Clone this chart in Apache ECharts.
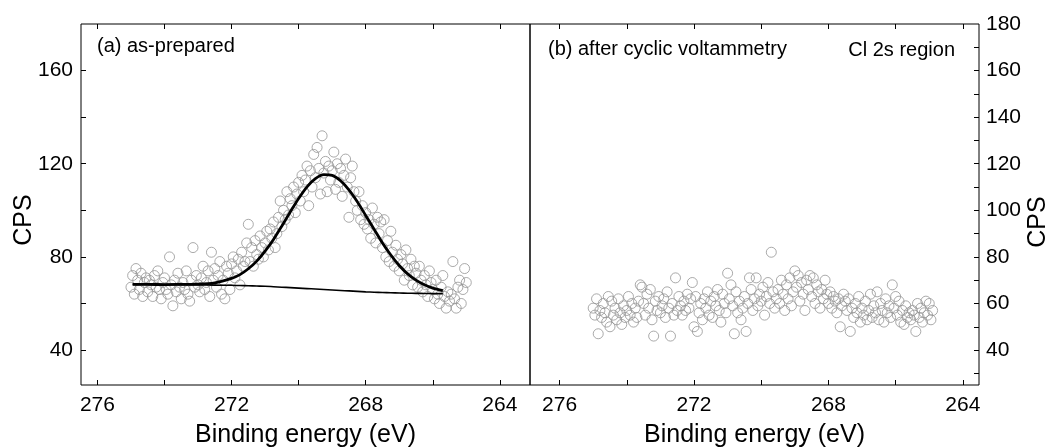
<!DOCTYPE html>
<html>
<head>
<meta charset="utf-8">
<script src="https://cdn.jsdelivr.net/npm/echarts@6/dist/echarts.min.js"></script>
<style>
html,body{margin:0;padding:0;background:#fff;}
#chart{width:1052px;height:447px;}
</style>
</head>
<body>
<div id="chart"></div>
<script>
// Energy grid of the measured spectra (eV), descending
const energyStart = 275.0;
const energyStep = 0.05;

// (a) as-prepared, CPS
const asPreparedCps = [
  67, 72, 64, 75, 70, 66, 73, 63, 69, 71,
  65, 70, 68, 63, 72, 67, 74, 66, 62, 69,
  71, 66, 64, 80, 68, 59, 70, 65, 73, 67,
  62, 69, 66, 74, 64, 61, 70, 84, 67, 72,
  68, 65, 71, 76, 66, 69, 74, 63, 82, 70,
  75, 67, 72, 78, 64, 70, 62, 76, 73, 66,
  77, 80, 71, 74, 79, 68, 82, 76, 78, 86,
  94, 78, 84, 76, 87, 81, 79, 89, 84, 80,
  86, 91, 83, 92, 88, 95, 84, 90, 97, 104,
  93, 100, 96, 108, 98, 105, 102, 110, 99, 107,
  112, 104, 115, 108, 113, 119, 102, 117, 110, 124,
  114, 127, 118, 107, 132, 116, 121, 108, 119, 113,
  117, 125, 109, 120, 112, 118, 106, 115, 122, 110,
  97, 114, 119, 108, 104, 100, 108, 96, 102, 94,
  99, 92, 96, 88, 101, 94, 86, 97, 90, 95,
  84, 96, 80, 87, 78, 91, 82, 76, 85, 79,
  74, 81, 77, 70, 83, 75, 72, 79, 68, 76,
  73, 67, 76, 70, 65, 72, 68, 63, 74, 69,
  66, 62, 70, 64, 60, 67, 72, 63, 58, 65,
  61, 64, 78, 62, 58, 67, 70, 60, 66, 75, 69
];

// (b) after cyclic voltammetry, CPS
const afterCvCps = [
  58, 55, 62, 47, 57, 54, 60, 56, 52, 63,
  50, 61, 55, 58, 53, 62, 56, 51, 59, 54,
  57, 63, 55, 60, 52, 58, 54, 61, 68, 67,
  60, 55, 64, 58, 66, 53, 46, 61, 57, 63,
  56, 59, 62, 54, 65, 58, 46, 60, 55, 71,
  57, 63, 59, 55, 61, 57, 64, 58, 62, 69,
  50, 63, 48, 56, 60, 53, 62, 58, 65, 55,
  61, 54, 63, 59, 66, 57, 52, 64, 60, 56,
  73, 62, 68, 59, 47, 65, 56, 61, 53, 58,
  63, 48, 60, 71, 66, 57, 62, 71, 59, 64,
  61, 67, 55, 63, 69, 60, 82, 65, 58, 62,
  66, 60, 70, 64, 57, 68, 62, 71, 59, 65,
  74, 67, 72, 61, 69, 64, 57, 70, 66, 72,
  63, 71, 60, 68, 65, 58, 66, 62, 70, 64,
  60, 65, 58, 63, 61, 56, 62, 50, 59, 64,
  61, 57, 62, 48, 58, 54, 60, 56, 63, 52,
  58, 55, 61, 53, 57, 64, 54, 59, 56, 65,
  53, 60, 57, 52, 62, 56, 59, 54, 68, 58,
  63, 55, 61, 52, 57, 51, 59, 54, 56, 53,
  57, 55, 48, 60, 54, 58, 52, 56, 61, 55,
  60, 53, 57
];

// Peak fit of (a)
const fitEnergy = [274.95, 274.5, 274.0, 273.5, 273.0, 272.5, 272.0, 271.75, 271.5, 271.25,
  271.0, 270.75, 270.5, 270.25, 270.0, 269.75, 269.5, 269.25, 269.0, 268.75,
  268.5, 268.25, 268.0, 267.75, 267.5, 267.25, 267.0, 266.75, 266.5, 266.25,
  266.0, 265.7];
const fitEnvelope = [68.2, 68.2, 68.1, 68.2, 68.3, 68.9, 70.8, 72.4, 74.9, 78.2,
  82.5, 87.5, 93.3, 99.3, 105.1, 110.1, 113.6, 115.3, 115.0, 112.7,
  108.8, 103.7, 97.8, 91.9, 86.0, 80.8, 76.3, 72.7, 70.0, 68.0,
  66.6, 65.5];
const fitBackground = [68.2, 68.2, 68.1, 68.1, 68.0, 67.9, 67.8, 67.7, 67.6, 67.5,
  67.4, 67.2, 67.0, 66.8, 66.6, 66.4, 66.2, 66.0, 65.8, 65.6,
  65.4, 65.2, 65.0, 64.85, 64.7, 64.6, 64.5, 64.4, 64.35, 64.3,
  64.25, 64.2];

// Axis ticks and labels
const xTickValues = [264, 266, 268, 270, 272, 274, 276];
const xLabelValues = [264, 268, 272, 276];
const leftYTickValues = [40, 60, 80, 100, 120, 140, 160];
const leftYLabelValues = [40, 80, 120, 160];
const rightYTickValues = [30, 40, 50, 60, 70, 80, 90, 100, 110, 120, 130, 140, 150, 160, 170];
const rightYLabelValues = [40, 60, 80, 100, 120, 140, 160, 180];

const FONT = 'Liberation Sans, Arial, sans-serif';

function toPairs(arr) {
  return arr.map((v, i) => [+(energyStart - i * energyStep).toFixed(2), v]);
}
function zip(xs, ys) { return xs.map((x, i) => [x, ys[i]]); }

const chart = echarts.init(document.getElementById('chart'), null, {renderer: 'canvas'});

const tickStyle = {show: true, inside: true, length: 5, lineStyle: {color: '#000', width: 1}};
const axisLabelStyle = {color: '#000', fontFamily: FONT, fontSize: 21};
const nameStyle = {color: '#000', fontFamily: FONT, fontSize: 25};

function xAxisBottom(gridIndex, min, max) {
  return {
    type: 'value', gridIndex, min, max, inverse: true, position: 'bottom',
    axisLine: {show: false}, splitLine: {show: false},
    axisTick: Object.assign({}, tickStyle, {customValues: xTickValues}),
    axisLabel: Object.assign({}, axisLabelStyle, {customValues: xLabelValues, margin: 10}),
    name: 'Binding energy (eV)', nameLocation: 'middle', nameGap: 38, nameTextStyle: nameStyle
  };
}
function xAxisTop(gridIndex, min, max) {
  return {
    type: 'value', gridIndex, min, max, inverse: true, position: 'top',
    axisLine: {show: false}, splitLine: {show: false},
    axisTick: Object.assign({}, tickStyle, {customValues: xTickValues}),
    axisLabel: {show: false}
  };
}

const scatterStyle = {color: 'rgba(0,0,0,0)', borderColor: '#959595', borderWidth: 1};

const option = {
  backgroundColor: '#fff',
  animation: false,
  grid: [
    {left: 81, right: 522, top: 24, bottom: 62, outerBoundsMode: 'none', containLabel: false,
      show: true, borderColor: '#000', borderWidth: 1, backgroundColor: 'transparent'},
    {left: 530, right: 73, top: 24, bottom: 62, outerBoundsMode: 'none', containLabel: false,
      show: true, borderColor: '#000', borderWidth: 1, backgroundColor: 'transparent'}
  ],
  xAxis: [
    xAxisBottom(0, 263.1, 276.49),
    xAxisTop(0, 263.1, 276.49),
    xAxisBottom(1, 263.52, 276.88),
    xAxisTop(1, 263.52, 276.88)
  ],
  yAxis: [
    {
      type: 'value', gridIndex: 0, min: 25, max: 180, position: 'left',
      axisLine: {show: false}, splitLine: {show: false},
      axisTick: Object.assign({}, tickStyle, {customValues: leftYTickValues}),
      axisLabel: Object.assign({}, axisLabelStyle, {customValues: leftYLabelValues, margin: 8})
    },
    {
      type: 'value', gridIndex: 1, min: 25, max: 180, position: 'right',
      axisLine: {show: false}, splitLine: {show: false},
      axisTick: Object.assign({}, tickStyle, {customValues: rightYTickValues}),
      axisLabel: Object.assign({}, axisLabelStyle, {customValues: rightYLabelValues, margin: 7})
    }
  ],
  series: [
    {
      type: 'scatter', xAxisIndex: 0, yAxisIndex: 0, data: toPairs(asPreparedCps),
      symbol: 'circle', symbolSize: 10, itemStyle: scatterStyle, z: 2, silent: true
    },
    {
      type: 'line', xAxisIndex: 0, yAxisIndex: 0, data: zip(fitEnergy, fitBackground),
      showSymbol: false, smooth: 0.3, lineStyle: {color: '#000', width: 1.6}, z: 3, silent: true
    },
    {
      type: 'line', xAxisIndex: 0, yAxisIndex: 0, data: zip(fitEnergy, fitEnvelope),
      showSymbol: false, smooth: 0.3, lineStyle: {color: '#000', width: 2.8}, z: 4, silent: true
    },
    {
      type: 'scatter', xAxisIndex: 2, yAxisIndex: 1, data: toPairs(afterCvCps),
      symbol: 'circle', symbolSize: 10, itemStyle: scatterStyle, z: 2, silent: true
    }
  ],
  graphic: [
    {type: 'text', left: 97, top: 36, style: {text: '(a) as-prepared', fill: '#000', font: '20px ' + FONT}},
    {type: 'text', left: 548, top: 39, style: {text: '(b) after cyclic voltammetry', fill: '#000', font: '20px ' + FONT}},
    {type: 'text', right: 97, top: 40, style: {text: 'Cl 2s region', fill: '#000', font: '20px ' + FONT}},
    {type: 'text', x: 24, y: 220, rotation: Math.PI / 2,
      style: {text: 'CPS', fill: '#000', font: '25px ' + FONT, align: 'center', verticalAlign: 'middle'}},
    {type: 'text', x: 1038, y: 222, rotation: Math.PI / 2,
      style: {text: 'CPS', fill: '#000', font: '25px ' + FONT, align: 'center', verticalAlign: 'middle'}}
  ]
};
chart.setOption(option);
</script>
</body>
</html>
